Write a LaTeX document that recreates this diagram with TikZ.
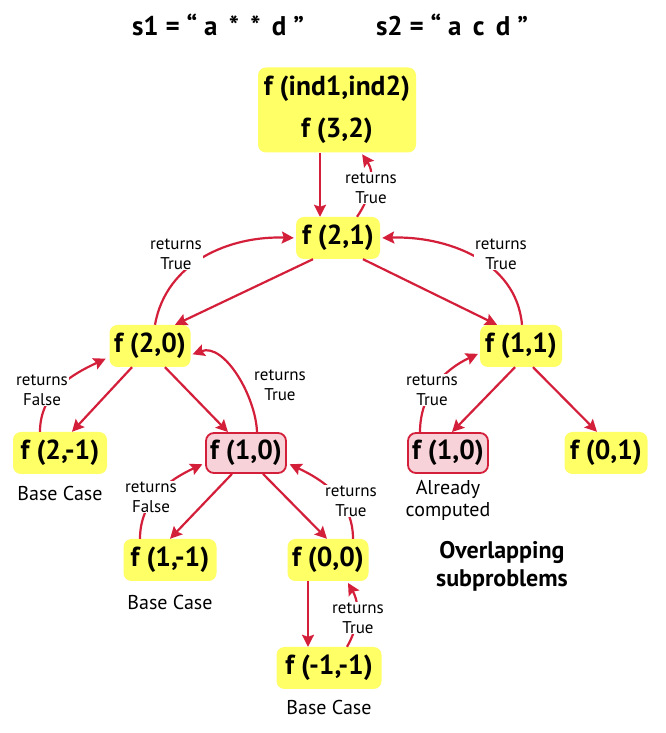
\documentclass[tikz,border=0pt]{standalone}
\usepackage{fontspec}
\setmainfont{PT Sans}
\usetikzlibrary{arrows.meta}
\definecolor{fred}{HTML}{D41F3A}
\definecolor{fyellow}{HTML}{FFFF66}
\definecolor{fpink}{HTML}{F7D2D8}
\tikzset{
 fbox/.style={fill=fyellow, rounded corners=8pt, minimum height=42pt, inner sep=0pt, font=\bfseries\fontsize{27.5}{30}\selectfont},
 pbox/.style={fbox, fill=fpink, draw=fred, line width=1.8pt},
 arr/.style={draw=fred, line width=2.2pt, -{Stealth[length=12pt,width=12pt,inset=2pt]}},
 lbl/.style={fill=white, inner sep=1pt, align=center, font=\fontsize{17}{20}\selectfont},
 note/.style={align=center, font=\fontsize{20}{22}\selectfont},
 ttl/.style={font=\bfseries\fontsize{27}{28}\selectfont},
}
\begin{document}
\begin{tikzpicture}[x=1pt,y=1pt]
\useasboundingbox (0,0) rectangle (665,733);
% titles
\node[ttl] (t1) at (218,708) {s1 = “ a \,* \,* \,d ”};
\node[ttl] (t2) at (452,708) {s2 = “ a \,c \,d ”};
% nodes
\node[fbox, minimum width=158pt, minimum height=85pt, align=center, font=\bfseries\fontsize{27.5}{42}\selectfont] (root) at (337,623) {f (ind1,ind2)\\f (3,2)};
\node[fbox, minimum width=84pt] (f21) at (338,495) {f (2,1)};
\node[fbox, minimum width=81pt] (f20) at (150,387) {f (2,0)};
\node[fbox, minimum width=82pt] (f11) at (521,387) {f (1,1)};
\node[fbox, minimum width=94pt] (f2m1) at (60,280) {f (2,-1)};
\node[pbox, minimum width=80pt, minimum height=40pt] (f10) at (246,280) {f (1,0)};
\node[pbox, minimum width=80pt, minimum height=40pt] (f10r) at (448,280) {f (1,0)};
\node[fbox, minimum width=83pt] (f01) at (606,280) {f (0,1)};
\node[fbox, minimum width=93pt] (f1m1) at (170,173) {f (1,-1)};
\node[fbox, minimum width=81pt] (f00) at (328,173) {f (0,0)};
\node[fbox, minimum width=105pt] (fm1m1) at (329,65) {f (-1,-1)};
% notes
\node[note] (bc1) at (60,239) {Base Case};
\node[note] (ac) at (448,233) {Already\\computed};
\node[note] (bc2) at (170,130) {Base Case};
\node[note] (bc3) at (329,25) {Base Case};
\node[ttl, align=center, font=\bfseries\fontsize{24}{28}\selectfont] (ov) at (502,167) {Overlapping\\subproblems};
% calls
\draw[arr] ([xshift=-17pt]root.south) -- ([xshift=-18pt]f21.north);
\draw[arr] ([xshift=-25pt]f21.south) -- ([xshift=25pt]f20.north);
\draw[arr] ([xshift=25pt]f21.south) -- ([xshift=-24pt]f11.north);
\draw[arr] ([xshift=-18pt]f20.south) -- ([xshift=12pt]f2m1.north);
\draw[arr] ([xshift=15pt]f20.south) -- ([xshift=-18pt]f10.north);
\draw[arr] ([xshift=-6pt]f11.south) -- ([xshift=4pt]f10r.north);
\draw[arr] ([xshift=12pt]f11.south) -- ([xshift=-9pt]f01.north);
\draw[arr] ([xshift=-14pt]f10.south) -- ([xshift=0pt]f1m1.north);
\draw[arr] ([xshift=17pt]f10.south) -- ([xshift=-1pt]f00.north);
\draw[arr] ([xshift=-20pt]f00.south) -- ([xshift=-21pt]fm1m1.north);
% returns
\draw[arr, shorten >=2pt] ([xshift=19pt]f21.north) to[out=55,in=-55] ([xshift=24pt]root.south);
\draw[arr, shorten >=2pt] ([xshift=5pt]f20.north) to[out=80,in=178] (f21.west);
\draw[arr, shorten >=2pt] ([xshift=1pt]f11.north) to[out=95,in=2] (f21.east);
\draw[arr, shorten >=4pt] ([xshift=-20pt]f2m1.north) to[out=90,in=-155] ([yshift=-11pt]f20.west);
\draw[arr, shorten >=2pt] ([xshift=11pt]f10.north) to[out=92,in=20,looseness=0.9] ([yshift=-9pt]f20.east);
\draw[arr, shorten >=2pt] ([xshift=-28pt]f10r.north) to[out=90,in=-155] ([yshift=-7pt]f11.west);
\draw[arr, shorten >=3pt] ([xshift=-30pt]f1m1.north) to[out=90,in=-155] ([yshift=-10pt]f10.west);
\draw[arr, shorten >=3pt] ([xshift=25pt]f00.north) to[out=90,in=-25] ([yshift=-10pt]f10.east);
\draw[arr, shorten >=2pt] ([xshift=18pt]fm1m1.north) to[out=60,in=-60] ([xshift=19pt]f00.south);
% return labels
\node[lbl] (r1) at (371,545) {returns\\True};
\node[lbl] (r2) at (176,479) {returns\\True};
\node[lbl] (r3) at (501,479) {returns\\True};
\node[lbl] (r4) at (42,343) {returns\\False};
\node[lbl] (r5) at (280,348) {returns\\True};
\node[lbl] (r6) at (432,343) {returns\\True};
\node[lbl] (r7) at (151,236) {returns\\False};
\node[lbl] (r8) at (351,232) {returns\\True};
\node[lbl] (r9) at (358,115) {returns\\True};
\end{tikzpicture}
\end{document}
